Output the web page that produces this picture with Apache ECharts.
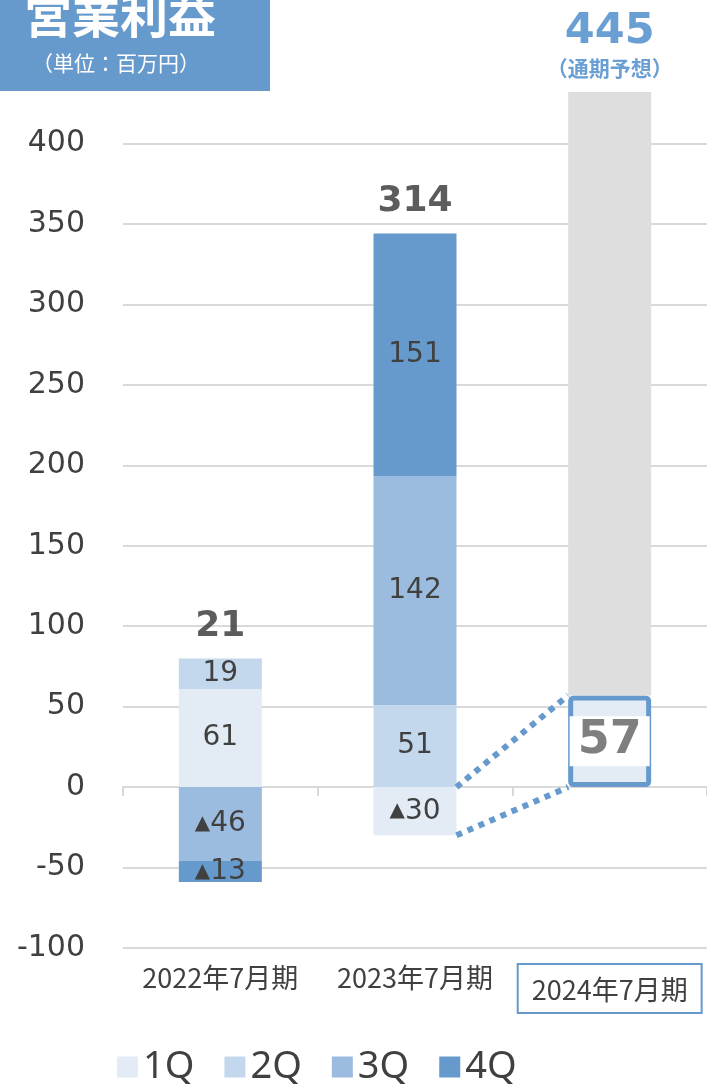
<!DOCTYPE html>
<html>
<head>
<meta charset="utf-8">
<script src="https://cdn.jsdelivr.net/npm/echarts@6/dist/echarts.min.js"></script>
<style>
  html, body { margin: 0; padding: 0; background: #fff; }
  #chart { width: 707px; height: 1086px; }
</style>
</head>
<body>
<div id="chart"></div>
<script>
'use strict';

// data
var categories = ['2022年7月期', '2023年7月期', '2024年7月期'];
var q1 = [61, -30, 57];
var q2 = [19, 51, null];
var q3 = [-46, 142, null];
var q4 = [-13, 151, null];
var totals = [21, 314, 445];
var legendNames = ['1Q', '2Q', '3Q', '4Q'];
var yMin = -100;
var yMax = 432;
var yStep = 50;

var colors = ['#e3ebf5', '#c3d8ed', '#9bbbdf', '#6699cc'];
var textColor = '#404040';
var barW = 83;

// top of the positive stack, where the total label sits
var posTop = categories.map(function (c, i) {
  var s = 0;
  [q1, q2, q3, q4].forEach(function (arr) {
    if (arr[i] > 0) s += arr[i];
  });
  return s;
});

// forecast remainder drawn in gray on top of 1Q
var forecastRest = categories.map(function (c, i) {
  return i === 2 ? totals[2] - q1[2] : null;
});

// dotted connectors: 2023 1Q range -> 2024 1Q range
var links = [
  [1, 0, 2, q1[2]],
  [1, q1[1], 2, 0]
];

function qLabel(v) {
  if (v == null) return '';
  return v < 0 ? '{t|▲}' + (-v) : String(v);
}

function qSeries(name, arr, idx) {
  return {
    name: name,
    type: 'bar',
    stack: 'q',
    barWidth: barW,
    data: arr.map(function (v, i) {
      if (idx === 0 && i === 2) {
        return {
          value: v,
          itemStyle: { borderColor: '#6699cc', borderWidth: 5, borderRadius: 3 },
          label: {
            formatter: '{n|' + v + '}',
            backgroundColor: '#fff',
            padding: [2, 8],
            rich: { n: { fontSize: 46, fontWeight: 'bold', color: '#7f7f7f', fontFamily: 'DejaVu Sans' } }
          }
        };
      }
      return v;
    }),
    itemStyle: { color: colors[idx] },
    label: {
      show: true,
      position: 'inside',
      color: textColor,
      fontSize: 28,
      fontFamily: 'DejaVu Sans',
      formatter: function (p) { return qLabel(p.value); },
      rich: { t: { fontSize: 20, color: textColor, fontFamily: 'DejaVu Sans' } }
    }
  };
}

var chart = echarts.init(document.getElementById('chart'));

var gridColors = [];
for (var v = yMin; v <= 400; v += yStep) gridColors.push('#d9d9d9');
gridColors.push('transparent');

var option = {
  animation: false,
  textStyle: { fontFamily: 'DejaVu Sans' },
  grid: { left: 123, right: 0, top: 92, bottom: 138 },
  legend: {
    data: legendNames,
    left: 112,
    top: 1043,
    icon: 'rect',
    itemWidth: 21,
    itemHeight: 21,
    itemGap: 30,
    textStyle: { fontSize: 38, color: textColor, fontFamily: 'Noto Sans' }
  },
  xAxis: [{
    type: 'category',
    data: categories,
    position: 'bottom',
    axisLine: { show: false, onZero: false },
    axisTick: { show: false },
    axisLabel: {
      interval: 0,
      margin: 16,
      fontSize: 27,
      color: textColor,
      fontFamily: 'Noto Sans CJK JP',
      formatter: function (val, i) {
        return i === 2 ? '{box|' + val + '}' : val;
      },
      rich: {
        box: {
          fontSize: 27,
          color: textColor,
          fontFamily: 'Noto Sans CJK JP',
          borderColor: '#6699cc',
          borderWidth: 2,
          padding: [12, 14, 10, 14]
        }
      }
    }
  }, {
    type: 'category',
    data: categories,
    position: 'bottom',
    axisLine: { show: true, onZero: true, lineStyle: { color: '#d9d9d9', width: 2 } },
    axisTick: { show: true, length: 9, lineStyle: { color: '#d9d9d9', width: 2 } },
    axisLabel: { show: false }
  }],
  yAxis: {
    type: 'value',
    min: yMin,
    max: yMax,
    interval: yStep,
    axisLine: { show: false },
    axisTick: { show: false },
    axisLabel: {
      margin: 38,
      fontSize: 30,
      color: textColor,
      fontFamily: 'DejaVu Sans',
      formatter: function (v) { return v > 400 ? '' : v; }
    },
    splitLine: { lineStyle: { color: gridColors, width: 2 } }
  },
  series: [
    qSeries(legendNames[0], q1, 0),
    qSeries(legendNames[1], q2, 1),
    qSeries(legendNames[2], q3, 2),
    qSeries(legendNames[3], q4, 3),
    {
      name: '通期予想',
      type: 'bar',
      stack: 'q',
      barWidth: barW,
      data: forecastRest,
      itemStyle: { color: '#dedede' },
      label: {
        show: true,
        position: 'top',
        distance: 10,
        formatter: function () { return '{a|' + totals[2] + '}\n{b|（通期予想）}'; },
        rich: {
          a: { fontSize: 43, fontWeight: 'bold', color: '#6a9fd4', fontFamily: 'DejaVu Sans', lineHeight: 44 },
          b: { fontSize: 21, fontWeight: 'bold', color: '#6a9fd4', fontFamily: 'Noto Sans CJK JP', lineHeight: 28 }
        }
      }
    },
    {
      name: 'total',
      type: 'scatter',
      symbolSize: 0,
      data: posTop.map(function (v, i) { return i < 2 ? v : null; }),
      label: {
        show: true,
        position: 'top',
        distance: 14,
        fontSize: 36,
        fontWeight: 'bold',
        color: '#333333',
        fontFamily: 'DejaVu Sans',
        formatter: function (p) { return totals[p.dataIndex]; }
      },
      z: 5
    },
    {
      name: 'link',
      type: 'custom',
      data: links,
      renderItem: function (params, api) {
        var a = api.coord([api.value(0), api.value(1)]);
        var b = api.coord([api.value(2), api.value(3)]);
        return {
          type: 'line',
          shape: { x1: a[0] + barW / 2, y1: a[1], x2: b[0] - barW / 2, y2: b[1] },
          style: { stroke: '#6699cc', lineWidth: 6, lineDash: [6, 6] }
        };
      },
      z: 4
    }
  ],
  graphic: [
    { type: 'rect', left: 0, top: 0, shape: { width: 270, height: 91 }, style: { fill: '#6699cc' } },
    { type: 'text', left: 24, top: -9, style: { text: '営業利益', fill: '#fff', font: 'bold 48px "Noto Sans CJK JP"' } },
    { type: 'text', left: 32, top: 53, style: { text: '（単位：百万円）', fill: '#fff', font: '21px "Noto Sans CJK JP"' } }
  ]
};

chart.setOption(option);
</script>
</body>
</html>
